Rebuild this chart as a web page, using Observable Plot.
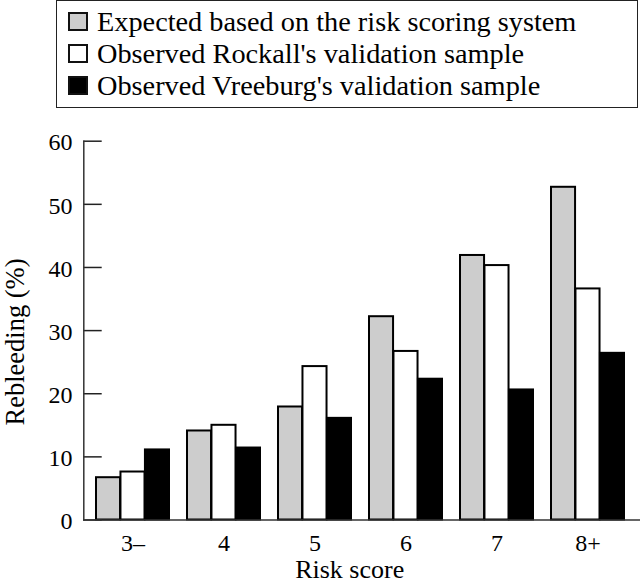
<!DOCTYPE html>
<html>
<head>
<meta charset="utf-8">
<script src="https://cdn.jsdelivr.net/npm/d3@7"></script>
<script src="https://cdn.jsdelivr.net/npm/@observablehq/plot@0.6"></script>
<style>
  html, body { margin: 0; padding: 0; background: #fff; }
  body { width: 640px; height: 585px; overflow: hidden; font-family: "Liberation Serif", "Times New Roman", serif; color: #000; }
  #legend { position: relative; width: 640px; height: 110px; }
  #legend .box { position: absolute; left: 56px; top: 0px; width: 582px; height: 108px; box-sizing: border-box; border: 1.5px solid #222; }
  #legend .sw { position: absolute; left: 68px; width: 19.5px; height: 18.5px; box-sizing: border-box; border: 2px solid #111; }
  #legend .lab { position: absolute; left: 97px; font-size: 28.3px; line-height: 32px; white-space: nowrap; }
  #chart svg { display: block; }
</style>
</head>
<body>
<div id="legend"><div class="box"></div></div>
<div id="chart"></div>
<script>
// ---- data ----
const riskScores = ["3–", "4", "5", "6", "7", "8+"];
const seriesNames = [
  "Expected based on the risk scoring system",
  "Observed Rockall's validation sample",
  "Observed Vreeburg's validation sample"
];
const seriesFills = ["#cdcdcd", "#ffffff", "#000000"];
const expected = [6.7, 14.1, 17.9, 32.2, 41.9, 52.7];
const rockall  = [7.6, 15.0, 24.3, 26.7, 40.3, 36.6];
const vreeburg = [11.1, 11.4, 16.1, 22.3, 20.6, 26.4];
const yTicks = [0, 10, 20, 30, 40, 50, 60];
const yLabel = "Rebleeding (%)";
const xLabel = "Risk score";

const seriesValues = [expected, rockall, vreeburg];

// ---- legend (HTML, above the SVG) ----
const legend = document.getElementById("legend");
seriesNames.forEach((name, i) => {
  const sw = document.createElement("div");
  sw.className = "sw";
  sw.style.top = (12.3 + i * 32) + "px";
  sw.style.background = seriesFills[i];
  legend.appendChild(sw);
  const lab = document.createElement("div");
  lab.className = "lab";
  lab.style.top = (6.2 + i * 31.9) + "px";
  lab.textContent = name;
  legend.appendChild(lab);
});

// ---- chart ----
const W = 640, ML = 83.3, TICK = 18.4;
const xOpts = {
  type: "band",
  domain: riskScores,
  range: [83.3, 637],
  paddingInner: 0.2,
  paddingOuter: 0.117
};
const bw = Plot.scale({x: xOpts}).bandwidth;

const rows = [];
seriesValues.forEach((vals, s) => {
  riskScores.forEach((r, i) => rows.push({risk: r, series: s, value: vals[i]}));
});

const barMarks = seriesValues.map((vals, s) =>
  Plot.barY(rows.filter(d => d.series === s), {
    x: "risk",
    y: "value",
    fill: seriesFills[s],
    stroke: "#000",
    strokeWidth: 2,
    insetLeft: s * bw / 3,
    insetRight: (2 - s) * bw / 3
  })
);

const chart = Plot.plot({
  width: W,
  height: 475,
  marginLeft: ML,
  marginRight: 0,
  marginTop: 30.7,
  marginBottom: 65.5,
  style: {fontFamily: "Liberation Serif, serif", fontSize: "24px", color: "#000", background: "#fff", overflow: "visible"},
  x: {...xOpts, axis: null},
  y: {domain: [0, 60], axis: null},
  marks: [
    ...barMarks,
    Plot.axisX({tickSize: 0, tickPadding: 14, label: null, fontSize: 24}),
    Plot.axisY({ticks: yTicks, tickSize: 0, tickPadding: 11.3, label: null, fontSize: 24, dy: 1.5}),
    Plot.tickY(yTicks, {y: d => d, stroke: "#222", strokeWidth: 1.5, insetRight: W - ML - TICK}),
    Plot.ruleY([0], {stroke: "#333", strokeWidth: 1.5}),
    Plot.frame({anchor: "left", stroke: "#333", strokeWidth: 1.5}),
    Plot.text([xLabel], {text: d => d, frameAnchor: "bottom", dy: 49.5, dx: -12.5, fontSize: 26, lineAnchor: "middle"}),
    Plot.text([yLabel], {text: d => d, frameAnchor: "left", textAnchor: "middle", rotate: -90, dx: -68.3, dy: 11.4, fontSize: 26.5, lineAnchor: "middle"})
  ]
});
document.getElementById("chart").appendChild(chart);
</script>
</body>
</html>
